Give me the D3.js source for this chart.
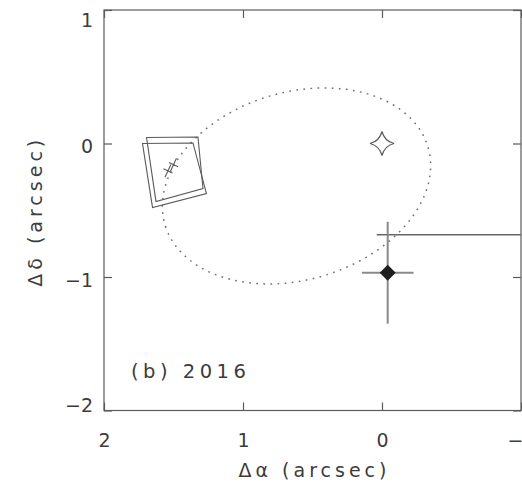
<!DOCTYPE html>
<html>
<head>
<meta charset="utf-8">
<script src="https://cdn.jsdelivr.net/npm/d3@7"></script>
<style>
  html, body { margin: 0; padding: 0; background: #fff; overflow: hidden; }
  svg text { font-family: "DejaVu Sans", "Liberation Sans", sans-serif; fill: #3c3c3c; }
</style>
</head>
<body>
<svg id="chart" width="522" height="485"></svg>
<script>
// Offsets in arcsec relative to the reference position
const xDomain = [2, -1];
const yDomain = [-2, 1];
const xTicks = [2, 1, 0, -1];
const yTicks = [1, 0, -1, -2];
const xTickLabels = ["2", "1", "0", "\u22121"];
const yTickLabels = ["1", "0", "\u22121", "\u22122"];

// Two overlapping field outlines (corners: [Δα, Δδ])
const fieldA = [[1.694, 0.045], [1.324, 0.049], [1.288, -0.337], [1.626, -0.434]];
const fieldB = [[1.723, 0.000], [1.360, 0.004], [1.263, -0.375], [1.651, -0.479]];

// Small cross markers inside the fields
const crossPositions = [[1.540, -0.205], [1.500, -0.158]];

// Reference position (open star)
const starPosition = [0, 0];

// Measured position with its errors (filled diamond)
const diamondPosition = [-0.041, -0.968];
const diamondError = [0.186, 0.382];

// Horizontal bar running off towards negative Δα
const barSegment = [[0.038, -0.683], [-1, -0.683]];

// Error ellipse: centre, semi-axes (arcsec) and tilt (deg)
const ellipseCenter = [0.615, -0.318];
const ellipseAxes = [0.99, 0.70];
const ellipseAngle = -18.4;

const panelLabel = "(b) 2016";
const xTitle = "\u0394\u03b1  (arcsec)";
const yTitle = "\u0394\u03b4  (arcsec)";

const svg = d3.select("#chart");
const plotL = 104, plotR = 521, plotT = 10, plotB = 410.5;
const x = d3.scaleLinear().domain(xDomain).range([plotL, plotR]);
const y = d3.scaleLinear().domain(yDomain).range([plotB, plotT]);

const ink = "#5a5a5a";
const tickLen = 8;

// Frame
svg.append("rect")
  .attr("x", plotL).attr("y", plotT)
  .attr("width", plotR - plotL).attr("height", plotB - plotT)
  .attr("fill", "none").attr("stroke", ink).attr("stroke-width", 1.2);

// Inward ticks on all four sides
const fmtX = d => xTickLabels[xTicks.indexOf(d)];
const fmtY = d => yTickLabels[yTicks.indexOf(d)];

const gB = svg.append("g").attr("transform", `translate(0,${plotB})`)
  .call(d3.axisBottom(x).tickValues(xTicks).tickSize(-tickLen).tickPadding(23).tickFormat(fmtX));
const gT = svg.append("g").attr("transform", `translate(0,${plotT})`)
  .call(d3.axisTop(x).tickValues(xTicks).tickSize(-tickLen).tickFormat(""));
const gL = svg.append("g").attr("transform", `translate(${plotL},0)`)
  .call(d3.axisLeft(y).tickValues(yTicks).tickSize(-tickLen).tickPadding(11).tickFormat(fmtY));
const gR = svg.append("g").attr("transform", `translate(${plotR},0)`)
  .call(d3.axisRight(y).tickValues(yTicks).tickSize(-tickLen).tickFormat(""));

[gB, gT, gL, gR].forEach(g => {
  g.select(".domain").remove();
  g.selectAll(".tick line").attr("stroke", ink).attr("stroke-width", 1.2);
  g.selectAll("text")
    .attr("font-family", "DejaVu Sans, sans-serif")
    .attr("font-size", 19)
    .attr("fill", "#3c3c3c");
});

// Keep the y tick labels inside the frame's vertical span
gL.selectAll(".tick text").each(function(d) {
  const c = Math.min(Math.max(y(d) + 2.5, plotT + 10), plotB - 5.5);
  d3.select(this).attr("y", c - y(d)).attr("dy", "0.365em");
});

// Axis titles
svg.append("text")
  .attr("x", (plotL + plotR) / 2 + 2).attr("y", 477)
  .attr("text-anchor", "middle")
  .attr("font-size", 19).attr("letter-spacing", 4)
  .text(xTitle);

svg.append("text")
  .attr("transform", `translate(42,${(plotT + plotB) / 2 + 1}) rotate(-90)`)
  .attr("text-anchor", "middle")
  .attr("font-size", 19).attr("letter-spacing", 4)
  .text(yTitle);

// Panel label
svg.append("text")
  .attr("x", 131).attr("y", 377.5)
  .attr("font-size", 19.5).attr("letter-spacing", 4.5)
  .text(panelLabel);

// Error ellipse (dotted)
const th = ellipseAngle * Math.PI / 180;
const ellipsePts = d3.range(0, 361, 2).map(deg => {
  const t = deg * Math.PI / 180;
  const u = ellipseAxes[0] * Math.cos(t), v = ellipseAxes[1] * Math.sin(t);
  return [ellipseCenter[0] + u * Math.cos(th) - v * Math.sin(th),
          ellipseCenter[1] + u * Math.sin(th) + v * Math.cos(th)];
});
svg.append("path")
  .attr("d", d3.line().x(d => x(d[0])).y(d => y(d[1])).curve(d3.curveLinearClosed)(ellipsePts))
  .attr("fill", "none").attr("stroke", "#707070").attr("stroke-width", 1.5)
  .attr("stroke-dasharray", "1.7 5.4");

// Field outlines
const poly = d3.line().x(d => x(d[0])).y(d => y(d[1])).curve(d3.curveLinearClosed);
[fieldA, fieldB].forEach(f => {
  svg.append("path").attr("d", poly(f))
    .attr("fill", "none").attr("stroke", ink).attr("stroke-width", 1.1);
});

// Tilted crosses
crossPositions.forEach(p => {
  const g = svg.append("g")
    .attr("transform", `translate(${x(p[0])},${y(p[1])}) rotate(25)`);
  g.append("path").attr("d", "M-5,0H5M0,-7V7")
    .attr("stroke", ink).attr("stroke-width", 1.1).attr("fill", "none");
});

// Long horizontal bar
svg.append("line")
  .attr("x1", x(barSegment[0][0])).attr("y1", y(barSegment[0][1]))
  .attr("x2", x(barSegment[1][0])).attr("y2", y(barSegment[1][1]))
  .attr("stroke", "#666").attr("stroke-width", 1.4);

// Diamond with error bars
const dX = x(diamondPosition[0]), dY = y(diamondPosition[1]);
svg.append("line")
  .attr("x1", x(diamondPosition[0] + diamondError[0])).attr("x2", x(diamondPosition[0] - diamondError[0]))
  .attr("y1", dY).attr("y2", dY)
  .attr("stroke", "#8a8a8a").attr("stroke-width", 2);
svg.append("line")
  .attr("x1", dX).attr("x2", dX)
  .attr("y1", y(diamondPosition[1] + diamondError[1])).attr("y2", y(diamondPosition[1] - diamondError[1]))
  .attr("stroke", "#8a8a8a").attr("stroke-width", 2);
svg.append("path")
  .attr("transform", `translate(${dX},${dY})`)
  .attr("d", "M0,-8L8,0L0,8L-8,0Z")
  .attr("fill", "#1e1e1e");

// Open four-pointed star
const sr = 12, sc = 0.2 * sr;
svg.append("path")
  .attr("transform", `translate(${x(starPosition[0])},${y(starPosition[1])})`)
  .attr("d", `M0,${-sr}Q${sc},${-sc} ${sr},0Q${sc},${sc} 0,${sr}Q${-sc},${sc} ${-sr},0Q${-sc},${-sc} 0,${-sr}Z`)
  .attr("fill", "none").attr("stroke", ink).attr("stroke-width", 1.2);
</script>
</body>
</html>
